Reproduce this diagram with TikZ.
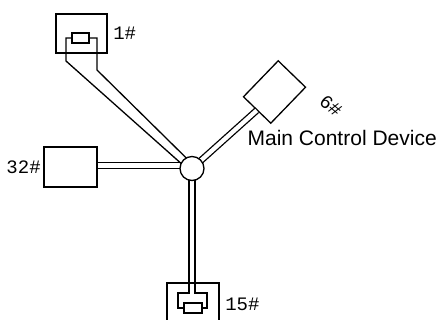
\documentclass[tikz,border=0pt]{standalone}
\usepackage{fontspec}
\setmainfont{Liberation Sans}
\setmonofont{Liberation Mono}
\begin{document}
\begin{tikzpicture}[
        x=1pt, y=1pt,
        line width=1.3pt,
        unit/.style={
            draw,
            rectangle,
            minimum width=51pt,
            minimum height=39pt,
            inner sep=0pt
        },
        res/.style={draw, rectangle, minimum width=17pt, minimum height=10pt, inner sep=0pt},
        hub/.style={draw, circle, fill=white, minimum size=24pt, inner sep=0pt},
        cable/.style={double, double distance=4.3pt},
        tag/.style={font=\ttfamily\fontsize{19}{19}\selectfont, inner sep=0pt},
        caption/.style={font=\fontsize{21}{21}\selectfont, inner sep=0pt}
    ]
        \useasboundingbox (0,0) rectangle (438,320);

        % Detector boxes
        \node[unit] (u1) at (81.5,286.5) {};
        \node[unit, minimum width=53pt, minimum height=40pt] (u32) at (70.5,153) {};
        \node[unit, minimum width=52pt, minimum height=42pt] (u15) at (193,16) {};
        \node[unit, minimum width=50pt, minimum height=38pt, rotate=46] (u6) at (274.5,228) {};

        % End resistors
        \node[res] (r1) at (80.5,282) {};
        \node[res, minimum width=18pt] (r15) at (193,12) {};

        % Cables to the junction
        \coordinate (joint) at (192,151.5);
        \draw[cable] ([yshift=1.5pt]u32.east) -- ([yshift=3pt]joint);
        \draw[cable] (u6.west) -- (joint);

        % Wires to 1#
        \draw (r1.west) -- (66,282) -- (66,259) -- ([shift={(-2.4,-2.5)}]joint);
        \draw (r1.east) -- (97,282) -- (97,250) -- ([shift={(2.4,2.5)}]joint);

        % Wires to 15#
        \draw (r15.west) -- (178,12) -- (178,27) -- (189,27) -- ([xshift=-3pt]joint);
        \draw (r15.east) -- (207,12) -- (207,27) -- (195,27) -- ([xshift=3pt]joint);

        \node[hub] (hub) at (joint) {};

        % Labels
        \foreach \n/\t in {u1/1\#, u15/15\#} {
            \node[tag, anchor=west] at ([xshift=5pt]\n.east |- \n) {\t};
        }
        \node[tag, anchor=east] (t32) at ([xshift=-2pt]u32.west) {32\#};
        \node[tag, rotate=-40] (t6) at (331,214) {6\#};
        \node[caption, anchor=west] (main) at (247,182) {Main Control Device};
    \end{tikzpicture}
\end{document}
